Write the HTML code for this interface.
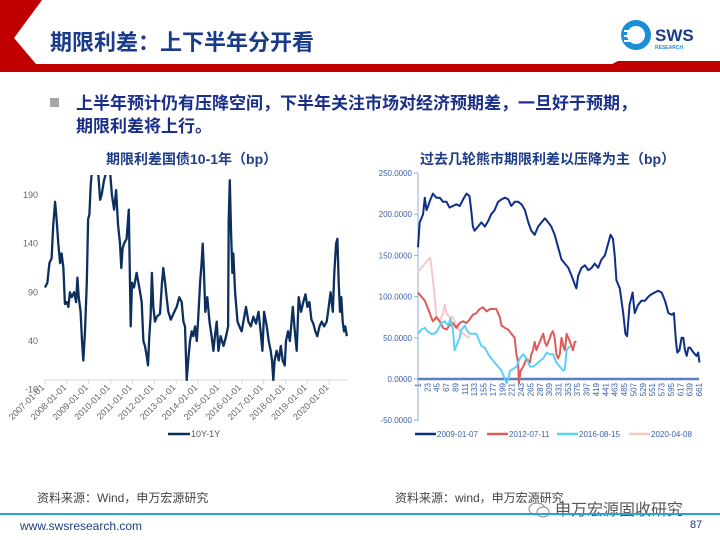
<!DOCTYPE html>
<html><head><meta charset="utf-8"><style>
body{margin:0;width:720px;height:540px;overflow:hidden;background:#fff;font-family:"Liberation Sans","Noto Sans CJK SC",sans-serif;position:relative}
.abs{position:absolute;white-space:nowrap}
</style></head><body>
<svg class="abs" style="left:0;top:0" width="720" height="80">
<polygon points="0,0 42,0 14,38 36,64 612,64 618,61 720,61 720,72 0,72" fill="#c00000"/>
<polygon points="0,0 0,0 0,0" fill="#fff"/>
<polygon points="44,0 720,0 720,60 616,60 610,63 38,63 17,38" fill="#fff"/>
</svg>
<div class="abs" style="left:50px;top:25px;font-size:22px;font-weight:bold;color:#1a3a8a">期限利差：上下半年分开看</div>
<svg class="abs" style="left:620px;top:18px" width="90" height="36">
<circle cx="16" cy="17" r="15" fill="#1a8fd8"/><circle cx="16" cy="17" r="9" fill="#fff"/><rect x="4" y="12" width="12" height="2" fill="#fff"/><rect x="4" y="17" width="12" height="2" fill="#fff"/><rect x="4" y="22" width="12" height="2" fill="#fff"/>
<text x="35" y="23" font-size="17" font-weight="bold" fill="#1a3a8a" font-family="Liberation Sans">SWS</text>
<text x="35" y="31" font-size="5" font-weight="bold" fill="#1a8fd8" font-family="Liberation Sans">RESEARCH</text>
</svg>
<div class="abs" style="left:50px;top:98px;width:9px;height:9px;background:#a6a6a6"></div>
<div class="abs" style="left:76px;top:92px;font-size:17px;line-height:23px;font-weight:bold;color:#1a2f8a">上半年预计仍有压降空间，下半年关注市场对经济预期差，一旦好于预期，<br>期限利差将上行。</div>

<div class="abs" style="left:106px;top:149px;font-size:14px;font-weight:bold;color:#1f3c88">期限利差国债10-1年（bp）</div>
<div class="abs" style="left:420px;top:149px;font-size:14px;font-weight:bold;color:#1f3c88">过去几轮熊市期限利差以压降为主（bp）</div>

<svg id="left" class="abs" style="left:0;top:160px" width="360" height="290" viewBox="0 160 360 290"></svg>
<svg id="right" class="abs" style="left:360px;top:160px" width="360" height="290" viewBox="360 160 360 290"></svg>

<div class="abs" style="left:37px;top:489px;font-size:12px;color:#444">资料来源：Wind，申万宏源研究</div>
<div class="abs" style="left:395px;top:489px;font-size:12px;color:#444">资料来源：wind，申万宏源研究</div>
<div class="abs" style="left:555px;top:496px;font-size:16px;color:#555">申万宏源固收研究</div>
<svg class="abs" style="left:527px;top:500px" width="26" height="20"><ellipse cx="10" cy="9" rx="8" ry="6" fill="none" stroke="#888"/><ellipse cx="16" cy="12" rx="6" ry="5" fill="#fff" stroke="#888"/></svg>
<div class="abs" style="left:0;top:513px;width:720px;height:2px;background:#29a3d8"></div>
<div class="abs" style="left:20px;top:519px;font-size:12px;color:#1f3c88">www.swsresearch.com</div>
<div class="abs" style="left:690px;top:519px;font-size:11px;color:#1f3c88">87</div>

<script>
// LEFT CHART DATA: years since 2007-01-01, spread in bp
const leftYears=[0,.11,.2,.3,.38,.46,.53,.61,.69,.76,.84,.91,.99,1.07,1.14,1.22,1.33,1.42,1.48,1.54,1.63,1.69,1.75,1.83,1.91,1.97,2.03,2.09,2.15,2.29,2.44,2.52,2.59,2.7,2.82,2.97,3.06,3.16,3.25,3.34,3.43,3.49,3.55,3.61,3.73,3.83,3.92,3.98,4.07,4.19,4.31,4.42,4.5,4.57,4.65,4.71,4.77,4.83,4.89,4.95,5.03,5.11,5.26,5.35,5.41,5.49,5.56,5.64,5.75,5.87,6.02,6.14,6.25,6.33,6.4,6.48,6.55,6.63,6.71,6.78,6.86,6.94,7.01,7.09,7.16,7.21,7.27,7.33,7.42,7.52,7.62,7.7,7.77,7.85,7.93,8.03,8.16,8.28,8.37,8.4,8.45,8.51,8.57,8.61,8.69,8.8,8.89,8.99,9.07,9.19,9.3,9.41,9.53,9.65,9.76,9.86,9.94,10.02,10.14,10.23,10.32,10.38,10.44,10.5,10.59,10.69,10.78,10.87,10.96,11.02,11.11,11.2,11.33,11.42,11.51,11.6,11.71,11.81,11.91,12,12.09,12.18,12.27,12.36,12.45,12.55,12.65,12.76,12.88,12.97,13.06,13.16,13.23,13.31,13.37,13.43,13.49,13.55,13.61,13.67,13.73,13.8];
const leftValues=[95,100,120,125,160,183,165,140,120,130,115,78,80,75,90,85,90,80,105,85,70,40,20,50,100,165,170,200,215,215,210,185,190,205,215,215,190,175,195,160,140,115,135,140,145,175,55,100,95,110,95,80,40,35,25,15,45,65,110,75,60,65,68,100,115,100,85,70,62,68,75,85,80,60,55,0,20,40,50,45,55,40,65,100,120,140,110,70,85,60,45,30,45,60,30,45,35,45,55,165,205,150,110,130,90,60,55,50,60,75,60,55,65,58,70,50,30,70,55,40,30,20,0,20,30,20,35,20,15,40,50,40,75,50,30,85,70,80,88,75,80,62,58,50,45,55,60,55,60,75,90,70,110,140,145,100,70,85,60,50,55,45];
const leftTicks=[190,140,90,40,-10];
const leftYearLabels=["2007-01-01","2008-01-01","2009-01-01","2010-01-01","2011-01-01","2012-01-01","2013-01-01","2014-01-01","2015-01-01","2016-01-01","2017-01-01","2018-01-01","2019-01-01","2020-01-01"];

// RIGHT CHART DATA: trading-day index since start of bear market, spread in bp
const s2009Idx=[1,5,9,13,17,21,25,28,36,44,52,60,68,75,83,91,99,107,115,122,126,130,134,142,150,158,166,173,181,189,197,205,213,220,228,236,244,252,260,267,275,283,291,299,307,314,322,330,338,346,354,362,369,373,377,385,393,401,409,416,424,432,440,448,453,459,463,467,475,483,488,492,498,505,510,518,526,534,542,550,557,565,573,581,589,597,602,607,610,615,620,624,628,632,636,640,648,655,659,662];
const s2009Val=[160,190,195,200,220,205,210,215,225,220,220,215,215,208,210,212,210,218,225,222,205,185,180,185,190,185,192,200,205,215,218,220,218,210,215,215,212,205,190,180,175,185,190,195,190,185,175,160,145,140,135,125,115,110,125,135,138,132,135,140,135,145,150,165,175,170,150,120,110,80,55,52,90,105,80,90,95,95,100,103,105,107,105,95,80,78,80,45,32,35,50,50,35,28,38,38,32,28,32,20];
const s2012Idx=[1,9,17,25,32,36,44,52,60,68,75,83,91,99,107,115,122,130,138,146,154,162,170,177,185,193,197,205,213,220,228,232,236,238,242,248,252,256,264,267,271,275,279,287,295,299,303,311,314,318,322,326,330,334,338,342,346,350,354,358,365,369,373];
const s2012Val=[105,100,95,85,75,70,75,70,62,60,65,68,62,68,70,68,72,78,80,85,87,82,85,85,85,75,65,62,60,55,50,30,20,-5,10,15,20,25,20,30,35,45,35,45,55,45,40,50,55,58,50,30,25,30,50,40,35,55,50,45,35,45,45];
const s2016Idx=[1,9,17,25,32,40,48,56,64,72,77,83,87,91,95,99,103,107,111,115,122,130,138,142,150,158,166,173,181,189,197,201,209,213,217,224,232,240,248,256,264,271,279,287,295,303,311,318,326,334,342,346,350,358];
const s2016Val=[55,60,62,57,55,55,60,68,70,65,73,60,35,40,45,50,60,62,65,60,55,55,55,50,40,38,30,25,20,15,10,5,-5,0,10,12,15,25,30,25,15,15,18,22,25,32,30,30,20,15,10,12,35,40];
const s2020Idx=[1,9,17,25,30,35,38,41,44,52,60,64,68,75,83,87,91,95,99,107,115,122];
const s2020Val=[130,135,140,145,147,125,110,95,75,70,80,90,80,75,75,70,65,62,58,55,52,50];
const rightTicks=[250,200,150,100,50,0,-50];
const rightLegend=["2009-01-07","2012-07-11","2016-08-15","2020-04-08"];

const NS="http://www.w3.org/2000/svg";
function mk(p,tag,attrs,txt){const e=document.createElementNS(NS,tag);for(const k in attrs)e.setAttribute(k,attrs[k]);if(txt!==undefined)e.textContent=txt;p.appendChild(e);return e;}

// LEFT
const L=document.getElementById('left');
const lx=y=>45+y*21.87;
const ly=v=>380-v*0.974;
mk(L,'defs',{}).innerHTML='<clipPath id="lc"><rect x="40" y="175" width="320" height="220"/></clipPath>';
leftTicks.forEach(t=>{const e=mk(L,'text',{x:38,y:ly(t)+3,'text-anchor':'end','font-size':9,fill:'#666'},String(t));

});
const lax=mk(L,'line',{x1:45,x2:348,y1:380,y2:380,stroke:'#d9d9d9','stroke-width':1});


leftYearLabels.forEach((s,i)=>{const x=lx(i);
mk(L,'line',{x1:x,x2:x,y1:380,y2:384,stroke:'#d9d9d9'});
const e=mk(L,'text',{x:x,y:388,'text-anchor':'end','font-size':9,fill:'#666',transform:`rotate(-45 ${x} 388)`},s);

});
const lp=mk(L,'path',{d:leftYears.map((y,i)=>(i?'L':'M')+lx(y).toFixed(1)+','+ly(leftValues[i]).toFixed(1)).join(''),fill:'none',stroke:'#0d2f5e','stroke-width':2.3,'stroke-linejoin':'round','clip-path':'url(#lc)'});


mk(L,'line',{x1:168,x2:190,y1:434,y2:434,stroke:'#0d2f5e','stroke-width':2.5});
const ll=mk(L,'text',{x:191,y:437,'font-size':9,fill:'#555'},'10Y-1Y');



// RIGHT
const R=document.getElementById('right');
const rx=i=>418+(i-1)*0.4258;
const ry=v=>379-v*0.824;
mk(R,'line',{x1:418,x2:418,y1:173,y2:421,stroke:'#8fb0dc','stroke-width':1});
rightTicks.forEach(t=>{mk(R,'line',{x1:414,x2:418,y1:ry(t),y2:ry(t),stroke:'#8fb0dc'});
const e=mk(R,'text',{x:412,y:ry(t)+3,'text-anchor':'end','font-size':8,fill:'#3d5fa8'},t.toFixed(4));

});
const z=mk(R,'line',{x1:418,x2:699,y1:ry(0),y2:ry(0),stroke:'#5b7fb8','stroke-width':2.5});


for(let i=1;i<=661;i+=22){const x=rx(i);
const e=mk(R,'text',{x:x+3,y:383,'text-anchor':'end','font-size':8,fill:'#3d5fa8',transform:`rotate(-90 ${x+3} 383)`},String(i));

}
const series=[[s2009Idx,s2009Val,'#0d2f8a','series-2009'],[s2012Idx,s2012Val,'#e05a5a','series-2012'],[s2016Idx,s2016Val,'#5cd0f5','series-2016'],[s2020Idx,s2020Val,'#f7c8c8','series-2020']];
[series[0],series[3],series[1],series[2]].forEach(s=>{const p=mk(R,'path',{d:s[0].map((x,i)=>(i?'L':'M')+rx(x).toFixed(1)+','+ry(s[1][i]).toFixed(1)).join(''),fill:'none',stroke:s[2],'stroke-width':2,'stroke-linejoin':'round'});

});
const lgx=[415,487,557,629];
rightLegend.forEach((s,i)=>{mk(R,'line',{x1:lgx[i],x2:lgx[i]+21,y1:434,y2:434,stroke:series[i][2],'stroke-width':2.5});
const e=mk(R,'text',{x:lgx[i]+22,y:437,'font-size':8,fill:'#3d5fa8'},s);

});
</script>
</body></html>
